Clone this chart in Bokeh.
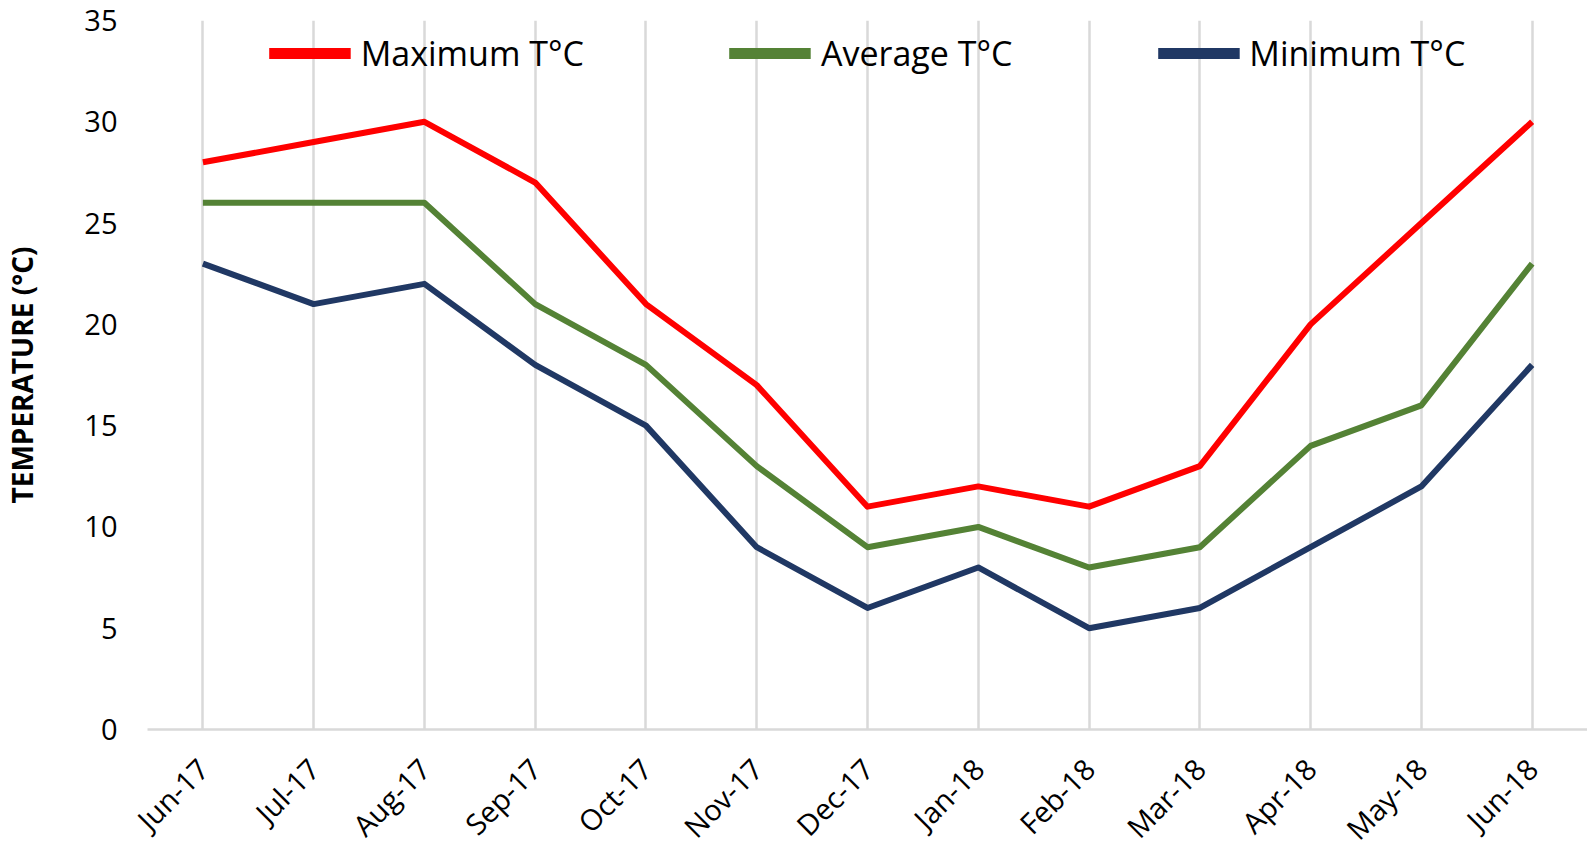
import math
from bokeh.plotting import figure
from bokeh.models import ColumnDataSource, FactorRange, Legend, LegendItem
from bokeh.embed import file_html
from bokeh.resources import INLINE

months = ["Jun-17", "Jul-17", "Aug-17", "Sep-17", "Oct-17", "Nov-17", "Dec-17",
          "Jan-18", "Feb-18", "Mar-18", "Apr-18", "May-18", "Jun-18"]
max_t = [28, 29, 30, 27, 21, 17, 11, 12, 11, 13, 20, 25, 30]
avg_t = [26, 26, 26, 21, 18, 13, 9, 10, 8, 9, 14, 16, 23]
min_t = [23, 21, 22, 18, 15, 9, 6, 8, 5, 6, 9, 12, 18]
y_ticks = [0, 5, 10, 15, 20, 25, 30, 35]

series = [("Maximum T°C", max_t, "#FF0000"),
          ("Average T°C", avg_t, "#548235"),
          ("Minimum T°C", min_t, "#203864")]

FONT = "Open Sans"

p = figure(x_range=FactorRange(factors=months, range_padding=0),
           y_range=(0, 35),
           frame_width=1440, frame_height=709,
           min_border_left=144, min_border_top=20, min_border_right=0, min_border_bottom=0,
           output_backend="svg", toolbar_location=None)
p.outline_line_color = None
p.background_fill_color = "white"

src = ColumnDataSource(dict(m=months, mx=max_t, av=avg_t, mn=min_t))
# off-range copies used only to draw thicker legend swatches
leg_src = ColumnDataSource(dict(m=months[:2], y=[-100, -100]))
items = []
for (name, vals, color), col in zip(series, ["mx", "av", "mn"]):
    p.line(x="m", y=col, source=src, line_color=color, line_width=6, line_join="round")
    dummy = p.line(x="m", y="y", source=leg_src, line_color=color, line_width=11)
    items.append(LegendItem(label=name, renderers=[dummy]))

legend = Legend(items=items, orientation="horizontal", location="top_center",
                glyph_width=82, glyph_height=12, label_standoff=10, spacing=145,
                padding=0, margin=10,
                label_text_font=FONT, label_text_font_size="34px", label_text_color="#000000",
                background_fill_alpha=0, border_line_color=None)
p.add_layout(legend, "center")

p.xgrid.grid_line_color = "#D9D9D9"
p.xgrid.grid_line_width = 2.5
p.ygrid.grid_line_color = None

xa = p.xaxis[0]
xa.axis_line_color = "#D9D9D9"
xa.axis_line_width = 2.5
xa.major_tick_line_color = None
xa.minor_tick_line_color = None
xa.major_label_orientation = math.pi / 4
xa.major_label_text_font = FONT
xa.major_label_text_font_size = "29px"
xa.major_label_text_color = "#000000"
xa.major_label_standoff = 28

ya = p.yaxis[0]
ya.ticker = y_ticks
ya.axis_line_color = None
ya.major_tick_line_color = None
ya.minor_tick_line_color = None
ya.major_label_text_font = FONT
ya.major_label_text_font_size = "29px"
ya.major_label_text_color = "#000000"
ya.major_label_standoff = 24
ya.axis_label = "TEMPERATURE (°C)"
ya.axis_label_text_font = FONT
ya.axis_label_text_font_size = "28px"
ya.axis_label_text_font_style = "bold"
ya.axis_label_text_color = "#000000"
ya.axis_label_standoff = 40

open("out.html", "w").write(file_html(p, INLINE))
